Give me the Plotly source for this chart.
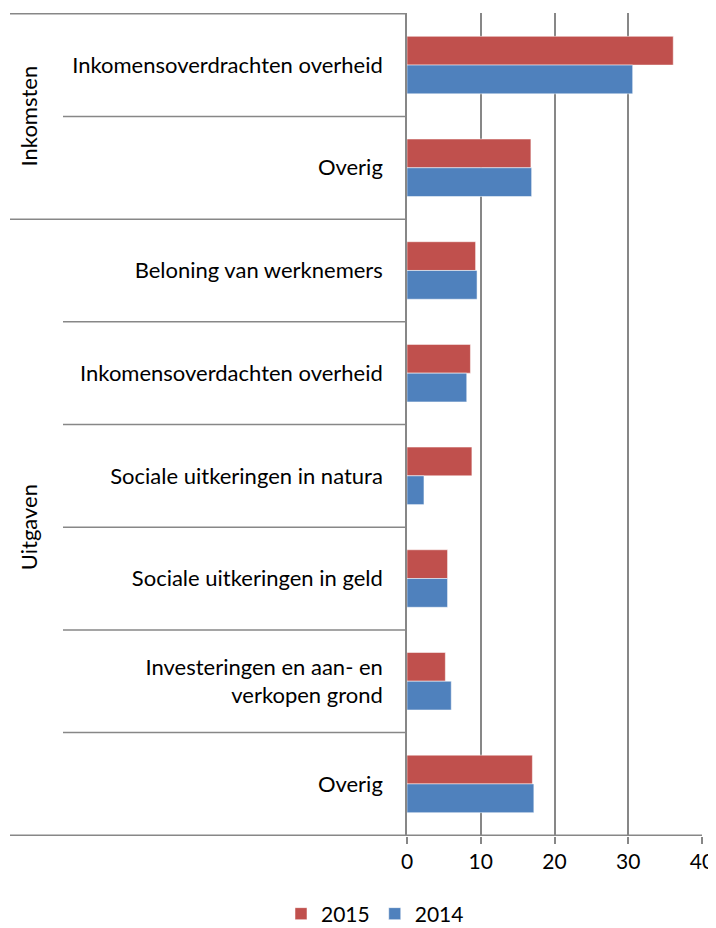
import plotly.graph_objects as go

category_keys = ["ink_overdracht", "ink_overig", "uit_beloning", "uit_overdracht",
                 "uit_natura", "uit_geld", "uit_invest", "uit_overig"]
category_labels = [
    "Inkomensoverdrachten overheid",
    "Overig",
    "Beloning van werknemers",
    "Inkomensoverdachten overheid",
    "Sociale uitkeringen in natura",
    "Sociale uitkeringen in geld",
    "Investeringen en aan- en<br>verkopen grond",
    "Overig",
]
values_2015 = [36.1, 16.8, 9.3, 8.6, 8.8, 5.5, 5.2, 17.0]
values_2014 = [30.6, 16.9, 9.5, 8.1, 2.3, 5.5, 6.0, 17.2]
groups = [("Inkomsten", 0, 1), ("Uitgaven", 2, 7)]
x_ticks = [0, 10, 20, 30, 40]

FONT = "Lato"
GRID = "#878787"

fig = go.Figure()
fig.add_trace(go.Bar(y=category_keys, x=values_2015, name="2015", orientation="h",
                     marker=dict(color="#C0504D", line=dict(color="rgba(255,255,255,0.5)", width=1))))
fig.add_trace(go.Bar(y=category_keys, x=values_2014, name="2014", orientation="h",
                     marker=dict(color="#4F81BD", line=dict(color="rgba(255,255,255,0.5)", width=1))))

OFF = 8  # page body margin
W, H = 716 - OFF, 928 - OFF
L, T = 407 - OFF, 13 - OFF
R = W - (702 - OFF)
B = H - (836 - OFF)
pw = W - L - R
ph = H - T - B
def px2paper(px):
    return (px - OFF - L) / pw
def py2paper(py):
    return 1 - (py - OFF - T) / ph

shapes = []
n = len(category_keys)
group_bounds = set()
for g, a, b in groups:
    group_bounds.add(a - 0.5)
    group_bounds.add(b + 0.5)
for i in range(n + 1):
    yb = i - 0.5
    x0 = px2paper(10) if yb in group_bounds else px2paper(63)
    x1 = 1.0 if i == n else 0.0
    shapes.append(dict(type="line", xref="paper", yref="y", x0=x0, x1=x1, y0=yb, y1=yb,
                       line=dict(color=GRID, width=1.5)))

annotations = []
for g, a, b in groups:
    annotations.append(dict(text=g, textangle=-90, xref="paper", yref="y",
                            x=px2paper(28), y=(a + b) / 2, showarrow=False,
                            font=dict(family=FONT, size=22, color="black"),
                            xanchor="center", yanchor="middle"))

fig.update_layout(
    width=W, height=H,
    margin=dict(l=L, r=R, t=T, b=B, autoexpand=False),
    plot_bgcolor="white", paper_bgcolor="white",
    barmode="group", bargap=0.44, bargroupgap=0,
    font=dict(family=FONT, size=22, color="black"),
    xaxis=dict(range=[0, 40], tickvals=x_ticks, showgrid=True, gridcolor=GRID, gridwidth=1.5,
               ticks="outside", ticklen=7, tickcolor=GRID, tickwidth=1.5,
               tickfont=dict(size=21), zeroline=False, showline=False, fixedrange=True),
    yaxis=dict(autorange="reversed", showline=True, linecolor=GRID, linewidth=1.5,
               tickmode="array", tickvals=category_keys, ticktext=category_labels,
               ticks="", ticklabelstandoff=18, tickfont=dict(size=22), showgrid=False),
    legend=dict(orientation="h", x=px2paper(375), xanchor="center",
                y=py2paper(914), yanchor="middle",
                font=dict(size=21), traceorder="normal"),
    shapes=shapes, annotations=annotations,
)

fig.write_html("out.html")
